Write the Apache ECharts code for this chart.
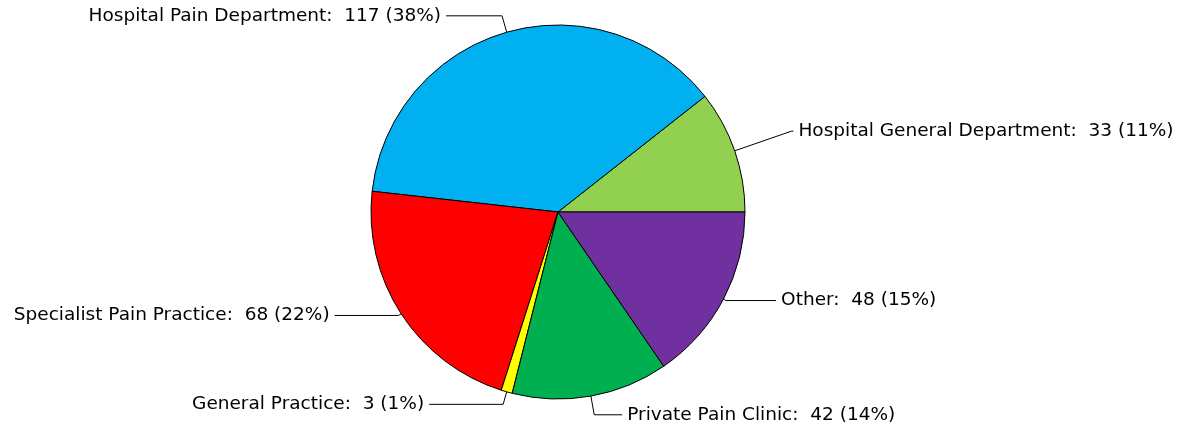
<!DOCTYPE html>
<html>
<head>
<meta charset="utf-8">
<script src="https://cdn.jsdelivr.net/npm/echarts@6/dist/echarts.min.js"></script>
<style>html,body{margin:0;padding:0;background:#fff}#c{width:1187px;height:429px}</style>
</head>
<body>
<div id="c"></div>
<script>
var categories = ['Hospital General Department', 'Hospital Pain Department', 'Specialist Pain Practice', 'General Practice', 'Private Pain Clinic', 'Other'];
var values = [33, 117, 68, 3, 42, 48];
var colors = ['#92D050', '#00B0F0', '#FF0000', '#FFFF00', '#00B050', '#7030A0'];
// leader line lengths per slice (style only)
var leadLen = [60, 17, 3, 13, 19, 3];
var leadLen2 = [2, 56, 64, 74, 28, 50];

var total = values.reduce(function (a, b) { return a + b; }, 0);
var chart = echarts.init(document.getElementById('c'));
chart.setOption({
  animation: false,
  backgroundColor: '#ffffff',
  series: [{
    type: 'pie',
    center: [558, 212],
    radius: 187,
    startAngle: 0,
    clockwise: false,
    avoidLabelOverlap: false,
    data: categories.map(function (n, i) {
      return {
        name: n, value: values[i], itemStyle: { color: colors[i] },
        labelLine: { length: leadLen[i], length2: leadLen2[i] }
      };
    }),
    itemStyle: { borderColor: '#000', borderWidth: 1 },
    label: {
      show: true,
      position: 'outside',
      color: '#000',
      fontFamily: 'DejaVu Sans',
      fontSize: 18.5,
      formatter: function (p) {
        return p.name + ':  ' + p.value + ' (' + Math.round(p.value / total * 100) + '%)';
      }
    },
    labelLine: {
      show: true,
      lineStyle: { color: '#000', width: 1 }
    },
    emphasis: { disabled: true }
  }]
});
</script>
</body>
</html>
